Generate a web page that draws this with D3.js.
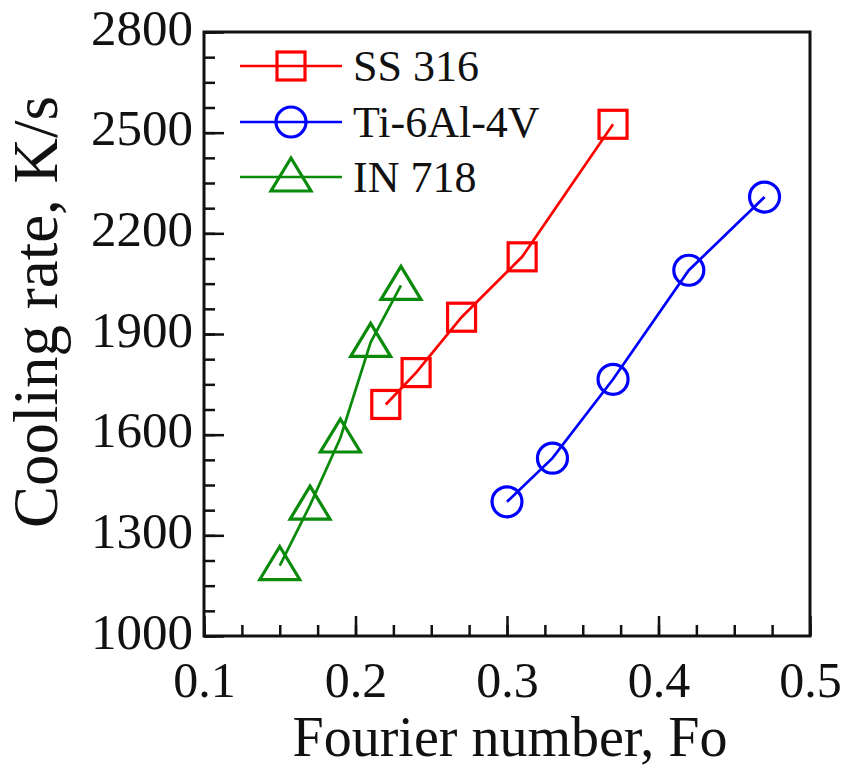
<!DOCTYPE html>
<html>
<head>
<meta charset="utf-8">
<script src="https://cdn.jsdelivr.net/npm/d3@7"></script>
<style>
	body { margin: 0; background: #fff; }
	text { font-family: "Liberation Serif", "Times New Roman", serif; fill: #111; }
</style>
</head>
<body>
<div id="viz"></div>
<script>
// data
var ss316Fo = [0.22, 0.24, 0.27, 0.31, 0.37];
var ss316Rate = [1690, 1785, 1950, 2130, 2525];
var tiFo = [0.30, 0.33, 0.37, 0.42, 0.47];
var tiRate = [1400, 1530, 1765, 2090, 2308];
var inFo = [0.15, 0.17, 0.19, 0.21, 0.23];
var inRate = [1210, 1390, 1590, 1875, 2045];

var seriesNames = ["SS 316", "Ti-6Al-4V", "IN 718"];
var xTicks = [0.1, 0.2, 0.3, 0.4, 0.5];
var yTicks = [1000, 1300, 1600, 1900, 2200, 2500, 2800];

var width = 845, height = 769;
var plotLeft = 204, plotRight = 810, plotTop = 32, plotBottom = 636;

var svg = d3.select('#viz')
	.append('svg')
		.attr('width', width)
		.attr('height', height);

var x = d3.scaleLinear().domain([0.1, 0.5]).range([plotLeft, plotRight]);
var y = d3.scaleLinear().domain([1000, 2800]).range([plotBottom, plotTop]);

function zip(a, b) {
	return a.map(function(v, i) { return {x: v, y: b[i]}; });
}

var series = [
	{name: seriesNames[0], pts: zip(ss316Fo, ss316Rate), color: '#ff0000', shape: 'square'},
	{name: seriesNames[1], pts: zip(tiFo, tiRate), color: '#0000ff', shape: 'circle'},
	{name: seriesNames[2], pts: zip(inFo, inRate), color: '#0a8a0a', shape: 'triangle'}
];

// minor ticks (inward)
var xMinor = d3.range(0.1, 0.5001, 0.025);
var yMinor = d3.range(1000, 2800.1, 75);

svg.append('g')
	.attr('transform', 'translate(0,' + plotBottom + ')')
	.call(d3.axisBottom(x).tickValues(xMinor).tickSize(-11).tickFormat(''))
	.call(function(g) { g.select('.domain').remove(); })
	.selectAll('line').attr('stroke', '#111').attr('stroke-width', 2.5);

svg.append('g')
	.attr('transform', 'translate(' + plotLeft + ',0)')
	.call(d3.axisLeft(y).tickValues(yMinor).tickSize(-11).tickFormat(''))
	.call(function(g) { g.select('.domain').remove(); })
	.selectAll('line').attr('stroke', '#111').attr('stroke-width', 2.5);

// major ticks + labels
var xAxis = svg.append('g')
	.attr('transform', 'translate(0,' + plotBottom + ')')
	.call(d3.axisBottom(x).tickValues(xTicks).tickSize(-20).tickPadding(0).tickFormat(d3.format('.1f')));
xAxis.select('.domain').remove();
xAxis.selectAll('line').attr('stroke', '#111').attr('stroke-width', 2.5);
xAxis.selectAll('text')
	.attr('y', 61)
	.attr('dy', 0)
	.attr('font-size', 50)
	.style('font-family', '"Liberation Serif", serif')
	.attr('fill', '#111');

var yAxis = svg.append('g')
	.attr('transform', 'translate(' + plotLeft + ',0)')
	.call(d3.axisLeft(y).tickValues(yTicks).tickSize(-20).tickPadding(11).tickFormat(d3.format('d')));
yAxis.select('.domain').remove();
yAxis.selectAll('line').attr('stroke', '#111').attr('stroke-width', 2.5);
yAxis.selectAll('text')
	.attr('font-size', 51)
	.attr('dy', 12)
	.style('font-family', '"Liberation Serif", serif')
	.attr('fill', '#111');

// frame
svg.append('rect')
	.attr('x', plotLeft)
	.attr('y', plotTop)
	.attr('width', plotRight - plotLeft)
	.attr('height', plotBottom - plotTop)
	.attr('fill', 'none')
	.attr('stroke', '#111')
	.attr('stroke-width', 3);

// axis titles
svg.append('text')
	.attr('x', (plotLeft + plotRight) / 2 + 3)
	.attr('y', 756)
	.attr('text-anchor', 'middle')
	.attr('font-size', 56)
	.text('Fourier number, Fo');

svg.append('text')
	.attr('transform', 'translate(57,' + 312 + ') rotate(-90)')
	.attr('text-anchor', 'middle')
	.attr('font-size', 63)
	.text('Cooling rate, K/s');

function drawMarker(g, shape, color) {
	if (shape == 'square') {
		g.append('rect')
			.attr('x', -14).attr('y', -14)
			.attr('width', 28).attr('height', 28)
			.attr('fill', 'none').attr('stroke', color).attr('stroke-width', 3.2);
	} else if (shape == 'circle') {
		g.append('circle')
			.attr('r', 15)
			.attr('fill', 'none').attr('stroke', color).attr('stroke-width', 3.2);
	} else {
		g.append('path')
			.attr('d', 'M0,-19 L20,14 L-20,14 Z')
			.attr('fill', 'none').attr('stroke', color).attr('stroke-width', 3.2)
			.attr('stroke-linejoin', 'miter');
	}
}

var line = d3.line()
	.x(function(d) { return x(d.x); })
	.y(function(d) { return y(d.y); });

series.forEach(function(s) {
	svg.append('path')
		.datum(s.pts)
		.attr('d', line)
		.attr('fill', 'none')
		.attr('stroke', s.color)
		.attr('stroke-width', 2.7);
	s.pts.forEach(function(p) {
		var g = svg.append('g').attr('transform', 'translate(' + x(p.x) + ',' + y(p.y) + ')');
		drawMarker(g, s.shape, s.color);
	});
});

// legend
var legendY = [66, 122, 177];
series.forEach(function(s, i) {
	var g = svg.append('g').attr('transform', 'translate(0,' + legendY[i] + ')');
	g.append('line')
		.attr('x1', 240).attr('x2', 342)
		.attr('stroke', s.color).attr('stroke-width', 2.5);
	var m = g.append('g').attr('transform', 'translate(291,0)');
	drawMarker(m, s.shape, s.color);
	g.append('text')
		.attr('x', 353)
		.attr('dy', '0.35em')
		.attr('font-size', 44)
		.text(s.name);
});
</script>
</body>
</html>
